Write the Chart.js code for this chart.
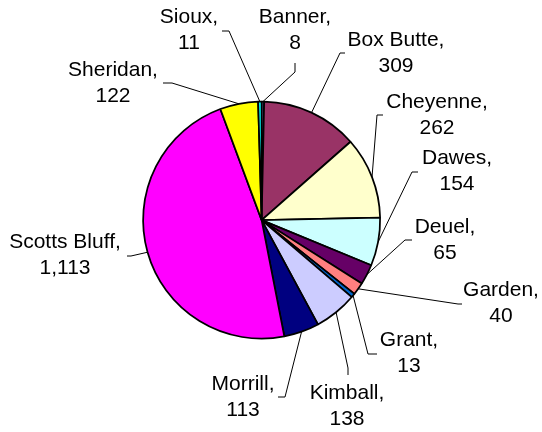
<!DOCTYPE html>
<html>
<head>
<meta charset="utf-8">
<script src="https://cdn.jsdelivr.net/npm/chart.js@4"></script>
<style>
  html, body { margin: 0; padding: 0; background: #ffffff; }
  #wrap { width: 542px; height: 432px; position: relative; }
</style>
</head>
<body>
<div id="wrap"><canvas id="c" width="542" height="432"></canvas></div>
<script>
// ---- Data ----
const categories = ["Banner", "Box Butte", "Cheyenne", "Dawes", "Deuel", "Garden", "Grant", "Kimball", "Morrill", "Scotts Bluff", "Sheridan", "Sioux"];
const values = [8, 309, 262, 154, 65, 40, 13, 138, 113, 1113, 122, 11];

// ---- Styles ----
const sliceColors = ["#9999FF", "#993366", "#FFFFCC", "#CCFFFF", "#660066", "#FF8080", "#0066CC", "#CCCCFF", "#000080", "#FF00FF", "#FFFF00", "#00FFFF"];

// ---- Label layout: text centre (x, y of first line), leader knee, leader end ----
const labelLayout = [
  { tx: 295, ty: 17, knee: [295, 72], end: [295, 63] },
  { tx: 396, ty: 40, knee: [340, 53], end: [345, 53] },
  { tx: 437, ty: 102, knee: [377, 115], end: [383, 115] },
  { tx: 457, ty: 158, knee: [412, 172], end: [418, 172] },
  { tx: 445, ty: 227, knee: [405, 240], end: [412, 240] },
  { tx: 501, ty: 290, knee: [458, 304], end: [462, 304] },
  { tx: 409, ty: 340, knee: [368, 354], end: [377, 354] },
  { tx: 347, ty: 393, knee: [348, 368], end: [348, 375] },
  { tx: 243, ty: 384, knee: [285, 397], end: [278, 397] },
  { tx: 65, ty: 242, knee: [131, 256], end: [127, 256] },
  { tx: 113, ty: 70, knee: [172, 83], end: [163, 83] },
  { tx: 189, ty: 17, knee: [229, 31], end: [222, 31] }
];
const lineGap = 26.5;
const labelFont = '21px "Liberation Sans", Arial, sans-serif';

const labelPlugin = {
  id: 'pieLabels',
  afterDatasetsDraw(chart) {
    const ctx = chart.ctx;
    const meta = chart.getDatasetMeta(0);
    ctx.save();
    meta.data.forEach((arc, i) => {
      const p = arc.getProps(['x', 'y', 'startAngle', 'endAngle', 'outerRadius'], true);
      const mid = (p.startAngle + p.endAngle) / 2;
      const sx = p.x + Math.cos(mid) * p.outerRadius;
      const sy = p.y + Math.sin(mid) * p.outerRadius;
      const L = labelLayout[i];
      ctx.beginPath();
      ctx.strokeStyle = '#000000';
      ctx.lineWidth = 1;
      ctx.moveTo(sx, sy);
      ctx.lineTo(L.knee[0], L.knee[1]);
      ctx.lineTo(L.end[0], L.end[1]);
      ctx.stroke();
      ctx.fillStyle = '#000000';
      ctx.font = labelFont;
      ctx.textAlign = 'center';
      ctx.textBaseline = 'middle';
      ctx.fillText(categories[i] + ',', L.tx, L.ty);
      ctx.fillText(values[i].toLocaleString('en-US'), L.tx, L.ty + lineGap);
    });
    ctx.restore();
  }
};

new Chart(document.getElementById('c'), {
  type: 'pie',
  data: {
    labels: categories,
    datasets: [{
      data: values,
      backgroundColor: sliceColors,
      borderColor: '#000000',
      borderWidth: 1.75
    }]
  },
  options: {
    responsive: false,
    animation: false,
    layout: { padding: { left: 142.25, right: 161, top: 100.75, bottom: 92.5 } },
    plugins: {
      legend: { display: false },
      tooltip: { enabled: false }
    }
  },
  plugins: [labelPlugin]
});
</script>
</body>
</html>
